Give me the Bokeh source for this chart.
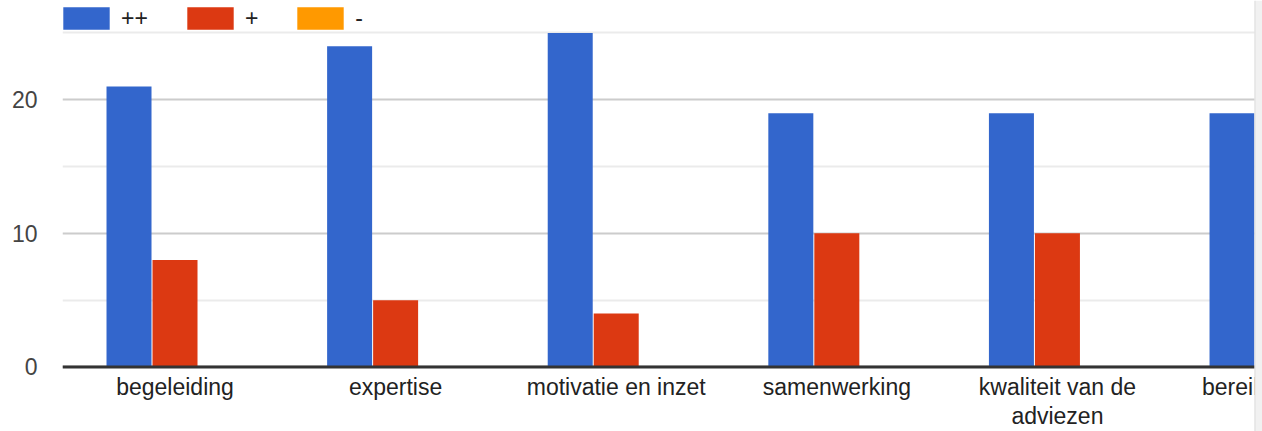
from bokeh.plotting import figure
from bokeh.models import ColumnDataSource, Range1d, FixedTicker, Legend, LegendItem, Span, BoxAnnotation
from bokeh.core.properties import value
from bokeh.transform import dodge
from bokeh.embed import file_html
from bokeh.resources import INLINE

categories = ["begeleiding", "expertise", "motivatie en inzet", "samenwerking",
              "kwaliteit van de\nadviezen", "bereikbaarheid"]
plus_plus = [21, 24, 25, 19, 19, 19]
plus = [8, 5, 4, 10, 10, 9]
minus = [0, 0, 0, 0, 0, 0]
series_names = ["++", "+", "-"]
colors = ["#3366CC", "#DC3912", "#FF9900"]
y_major_ticks = [0, 10, 20]
y_minor_ticks = [5, 15, 25]

FONT = "Liberation Sans"
x_pos = [i + 0.5 for i in range(len(categories))]
source = ColumnDataSource(dict(x=x_pos, pp=plus_plus, p=plus, m=minus, label=categories))

p = figure(width=1262, height=431, output_backend="svg", toolbar_location=None,
           x_axis_location=None,
           x_range=Range1d(-0.01, 5.4296), y_range=Range1d(-4.83, 27.43),
           min_border_left=62, min_border_right=0, min_border_top=0, min_border_bottom=0)
p.outline_line_color = None
p.background_fill_color = "white"

# grid
p.xgrid.grid_line_color = None
p.ygrid.ticker = FixedTicker(ticks=y_major_ticks, minor_ticks=y_minor_ticks)
p.ygrid.grid_line_color = "#cccccc"
p.ygrid.grid_line_width = 2
p.ygrid.minor_grid_line_color = "#ebebeb"
p.ygrid.minor_grid_line_width = 2

off = 0.2085
bw = 0.204
r1 = p.vbar(x=dodge("x", -off), top="pp", width=bw, source=source, fill_color=colors[0], line_color=None)
r2 = p.vbar(x=dodge("x", 0), top="p", width=bw, source=source, fill_color=colors[1], line_color=None)
r3 = p.vbar(x=dodge("x", off), top="m", width=bw, source=source, fill_color=colors[2], line_color=None)

# baseline at zero
p.add_layout(Span(location=0, dimension="width", line_color="#333333", line_width=3))

# category labels
p.text(x="x", y=0, text="label", source=source, text_align="center", text_baseline="top",
       y_offset=7, text_font=value(FONT), text_font_size="23px", text_color="#222222",
       text_line_height=1.13)

# container edge (chart is cut off at the right)
p.add_layout(BoxAnnotation(left=1192, left_units="screen", fill_color="#f1f1f1", fill_alpha=1,
                           line_color=None, level="overlay"))
p.add_layout(Span(location=1192.5, location_units="screen", dimension="height",
                  line_color="#dddddd", line_width=1, level="overlay"))

# y axis
p.yaxis.ticker = FixedTicker(ticks=y_major_ticks)
p.yaxis.axis_line_color = None
p.yaxis.major_tick_line_color = None
p.yaxis.major_tick_out = 0
p.yaxis.major_tick_in = 0
p.yaxis.minor_tick_line_color = None
p.yaxis.minor_tick_out = 0
p.yaxis.major_label_text_font = FONT
p.yaxis.major_label_text_font_size = "23px"
p.yaxis.major_label_text_color = "#444444"
p.yaxis.major_label_standoff = 25

legend = Legend(items=[LegendItem(label=n, renderers=[r]) for n, r in zip(series_names, [r1, r2, r3])],
                orientation="horizontal", location=(-5, 399),
                glyph_width=58, glyph_height=28, label_standoff=6, label_width=0,
                spacing=33, padding=0, margin=0, border_line_color=None,
                background_fill_alpha=0, label_text_font=FONT,
                label_text_font_size="23px", label_text_color="#222222")
p.add_layout(legend)

open("out.html", "w").write(file_html(p, INLINE))
